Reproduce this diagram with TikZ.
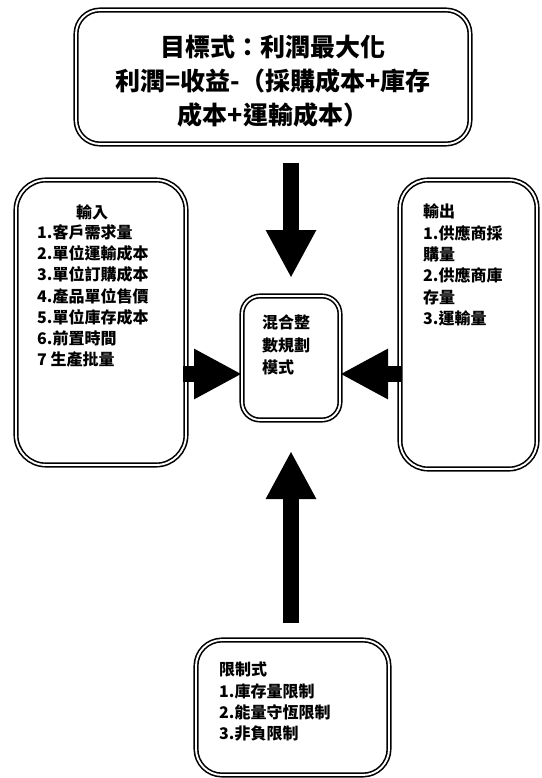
\documentclass[tikz,border=0pt]{standalone}
\usepackage{fontspec}
\setmainfont{Noto Sans CJK TC}
\usetikzlibrary{arrows.meta}

\begin{document}
\begin{tikzpicture}[x=1pt,y=-1pt]
  \tikzset{ frame/.style={draw=black, double=white, double distance=1.9pt, line width=1.6pt, rectangle, inner sep=0pt, outer sep=0pt} }
  \tikzset{ small/.style={font=\fontsize{16}{21.3}\selectfont\bfseries, inner sep=0pt, align=left} }
  \tikzset{ fat/.style  ={line width=16pt, -{Triangle[width=47pt,length=48pt]}} }

  \useasboundingbox (0,0) rectangle (541,778);

  % boxes
  \node[frame, rounded corners=24pt, minimum width=394pt, minimum height=134pt] (goal)   at (273,77) {};
  \node[frame, rounded corners=30pt, minimum width=170pt, minimum height=285pt] (input)  at (101,322.5) {};
  \node[frame, rounded corners=28pt, minimum width=137pt, minimum height=289pt] (output) at (468.5,324.5) {};
  \node[frame, rounded corners=18pt, minimum width=98pt,  minimum height=124pt] (model)  at (291,358) {};
  \node[frame, rounded corners=26pt, minimum width=193pt, minimum height=135pt] (limit)  at (292.5,707.5) {};

  % texts
  \node[font=\fontsize{25}{34}\selectfont\bfseries, align=center, inner sep=0pt] (goal_txt) at (273,81)
        {目標式：利潤最大化\\利潤=收益-（採購成本+庫存\\成本+運輸成本）};
  \node[small, anchor=north]      (input_hd)   at (92,205)  {輸入};
  \node[small, anchor=north west] (input_txt)  at (37,224)  {1.客戶需求量\\2.單位運輸成本\\3.單位訂購成本\\4.產品單位售價\\5.單位庫存成本\\6.前置時間\\7 生產批量};
  \node[small, anchor=north west] (output_txt) at (423,204) {輸出\\1.供應商採\\購量\\2.供應商庫\\存量\\3.運輸量};
  \node[small, anchor=north west, font=\fontsize{16}{22.5}\selectfont\bfseries] (model_txt) at (262,315) {混合整\\數規劃\\模式};
  \node[small, anchor=north west] (limit_txt)  at (219,662) {限制式\\1.庫存量限制\\2.能量守恆限制\\3.非負限制};

  % arrows
  \coordinate (side) at (0,374);
  \draw[fat, shorten <=19pt, shorten >=18pt] (model |- goal.south)  -- (model.north);
  \draw[fat, shorten <=17pt, shorten >=31pt] (model |- limit.north) -- (model.south);
  \draw[fat, shorten <=-3pt] (input.east |- side)  -- (model.west |- side);
  \draw[fat, shorten <=-2pt] (output.west |- side) -- (model.east |- side);
\end{tikzpicture}
\end{document}
